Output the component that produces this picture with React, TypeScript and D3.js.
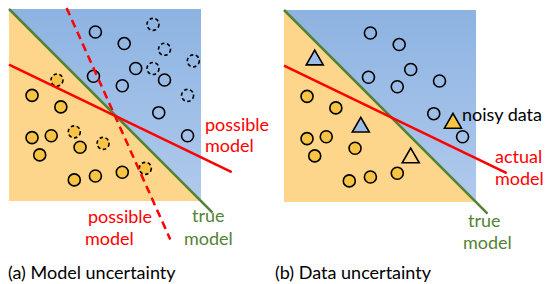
import * as d3 from "d3";

const FONT = "Lato, 'Open Sans', sans-serif";
const RED = "#ff0000";
const GREEN = "#548235";
const ORANGE_BG = "#fdd68b";
const ORANGE_DOT = "#f9c443";

// positions in square units: 0..100, y measured from top
const blueDots: [number, number][] = [
  [45, 12], [60, 18], [44, 35], [66, 31], [59, 40], [81, 37], [78, 54], [93, 66],
];
const orangeDots: [number, number][] = [
  [12, 45], [27, 51], [12, 67], [22, 66], [16, 76], [37, 72], [34, 89], [45, 87], [59, 85],
];
const blueDashedA: [number, number][] = [[75, 8], [81, 21], [96, 27], [75, 31], [93, 45]];
const orangeDashedA: [number, number][] = [[25, 37], [34, 64], [49, 70], [71, 83]];

// triangles (panel b): x, y, fill kind
const noisyB: [number, number, string][] = [
  [16, 26, "blue"], [40, 61, "blue"], [88, 59, "orange"], [66, 77, "bg"],
];

const trueModel: [number, number][] = [[0, 0], [106, 106]];
const solidModel: [number, number][] = [[0, 29], [116, 85]];
const dashedModel: [number, number][] = [[30, -0.5], [84, 120]];

const SIZE = 192;

function Panel({ x0, y0, id, children }: { x0: number; y0: number; id: string; children: (sx: d3.ScaleLinear<number, number>, sy: d3.ScaleLinear<number, number>) => any }) {
  const sx = d3.scaleLinear().domain([0, 100]).range([x0, x0 + SIZE]);
  const sy = d3.scaleLinear().domain([0, 100]).range([y0, y0 + SIZE]);
  const line = d3.line<[number, number]>().x((d) => sx(d[0])).y((d) => sy(d[1]));
  const blueTri = `M${sx(0)},${sy(0)}L${sx(100)},${sy(0)}L${sx(100)},${sy(100)}Z`;
  const orangeTri = `M${sx(0)},${sy(0)}L${sx(100)},${sy(100)}L${sx(0)},${sy(100)}Z`;
  return (
    <g>
      <defs>
        <linearGradient id={id} x1="0" y1="0" x2="0" y2="1">
          <stop offset="0" stopColor="#8db3e2" />
          <stop offset="1" stopColor="#b0caec" />
        </linearGradient>
      </defs>
      <path d={blueTri} fill={`url(#${id})`} />
      <path d={orangeTri} fill={ORANGE_BG} />
      {blueDots.map((d, i) => (
        <circle key={"b" + i} cx={sx(d[0])} cy={sy(d[1])} r={6} fill="none" stroke="#000" strokeWidth={1.6} />
      ))}
      {orangeDots.map((d, i) => (
        <circle key={"o" + i} cx={sx(d[0])} cy={sy(d[1])} r={6} fill={ORANGE_DOT} stroke="#000" strokeWidth={1.6} />
      ))}
      {children(sx, sy)}
      <path d={line(trueModel)!} stroke={GREEN} strokeWidth={2.5} fill="none" />
      <path d={line(solidModel)!} stroke={RED} strokeWidth={2.5} fill="none" />
    </g>
  );
}

export default function App() {
  const tri = d3.symbol(d3.symbolTriangle, 125)()!;
  const triFill: Record<string, string> = { blue: "#9dbce6", orange: ORANGE_DOT, bg: ORANGE_BG };
  return (
    <svg width={545} height={284} style={{ position: "absolute", left: 0, top: 0 }} fontFamily={FONT}>
      <rect width={545} height={284} fill="#fff" />
      <Panel x0={9} y0={9} id="gA">
        {(sx, sy) => {
          const line = d3.line<[number, number]>().x((d) => sx(d[0])).y((d) => sy(d[1]));
          return (
            <g>
              {blueDashedA.map((d, i) => (
                <circle key={"bd" + i} cx={sx(d[0])} cy={sy(d[1])} r={6} fill="none" stroke="#000" strokeWidth={1.6} strokeDasharray="3.5,2.5" />
              ))}
              {orangeDashedA.map((d, i) => (
                <circle key={"od" + i} cx={sx(d[0])} cy={sy(d[1])} r={6} fill={ORANGE_DOT} stroke="#000" strokeWidth={1.6} strokeDasharray="3.5,2.5" />
              ))}
              <path d={line(dashedModel)!} stroke={RED} strokeWidth={2.5} fill="none" strokeDasharray="8,5" />
            </g>
          );
        }}
      </Panel>
      <Panel x0={284} y0={10} id="gB">
        {(sx, sy) => (
          <g>
            {noisyB.map((d, i) => (
              <path key={"t" + i} d={tri} transform={`translate(${sx(d[0])},${sy(d[1])})`} fill={triFill[d[2]]} stroke="#000" strokeWidth={1.6} strokeLinejoin="miter" />
            ))}
          </g>
        )}
      </Panel>
      <g fontSize={18}>
        <text x={205} y={131} fill={RED}>possible</text>
        <text x={205} y={152} fill={RED}>model</text>
        <text x={88} y={223} fill={RED}>possible</text>
        <text x={85} y={245} fill={RED}>model</text>
        <text x={192} y={222} fill={GREEN}>true</text>
        <text x={184} y={245} fill={GREEN}>model</text>
        <text x={462} y={121} fill="#000">noisy data</text>
        <text x={495} y={163} fill={RED}>actual</text>
        <text x={495} y={185} fill={RED}>model</text>
        <text x={468} y={227} fill={GREEN}>true</text>
        <text x={463} y={249} fill={GREEN}>model</text>
        <text x={8} y={279} fill="#000">(a) Model uncertainty</text>
        <text x={275} y={279} fill="#000">(b) Data uncertainty</text>
      </g>
    </svg>
  );
}
